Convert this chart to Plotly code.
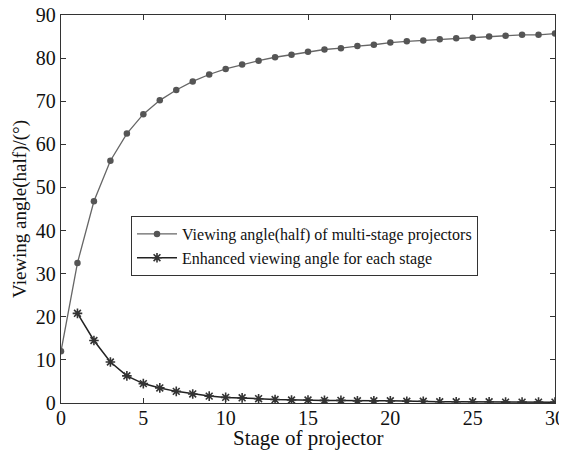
import plotly.graph_objects as go

stages_total = list(range(0, 31))
viewing_angle_total = [12.0, 32.5, 46.8, 56.2, 62.5, 67.0, 70.2, 72.6, 74.6, 76.2,
                       77.5, 78.5, 79.4, 80.2, 80.8, 81.5, 82.0, 82.3, 82.8, 83.1,
                       83.6, 83.9, 84.1, 84.4, 84.6, 84.7, 85.0, 85.2, 85.4, 85.4, 85.7]

stages_enh = list(range(1, 31))
enhanced_angle = [20.8, 14.5, 9.5, 6.3, 4.5, 3.5, 2.7, 2.1, 1.6, 1.3,
                  1.2, 1.0, 0.8, 0.7, 0.7, 0.6, 0.6, 0.5, 0.5, 0.5,
                  0.4, 0.4, 0.3, 0.3, 0.3, 0.3, 0.2, 0.2, 0.2, 0.2]

font_family = "Times New Roman, Liberation Serif, serif"

fig = go.Figure()
fig.add_trace(go.Scatter(
    x=stages_total, y=viewing_angle_total, mode="lines+markers",
    name="Viewing angle(half) of multi-stage projectors",
    line=dict(color="#666666", width=1.3),
    marker=dict(symbol="circle", size=6.5, color="#555555"),
))
fig.add_trace(go.Scatter(
    x=stages_enh, y=enhanced_angle, mode="lines+markers",
    name="Enhanced viewing angle for each stage",
    line=dict(color="#222222", width=1.5),
    marker=dict(symbol="asterisk-open", size=8, color="#333333",
                line=dict(color="#333333", width=1.6)),
))

axis_common = dict(
    showgrid=False, zeroline=False, showline=True, linecolor="#333333",
    linewidth=1.3, mirror="ticks", ticks="inside", ticklen=5,
    tickcolor="#333333", tickwidth=1, automargin=False,
    ticklabeloverflow="allow",
    tickfont=dict(family=font_family, size=20, color="#111111"),
)

fig.update_layout(
    width=559, height=446,
    margin=dict(l=53, r=12, t=7, b=51),
    paper_bgcolor="white", plot_bgcolor="white",
    showlegend=True,
    font=dict(family=font_family),
    legend=dict(x=0.1417, y=0.482, xanchor="left", yanchor="top",
                bgcolor="white", bordercolor="#333333", borderwidth=1,
                font=dict(family=font_family, size=16, color="#111111"),
                tracegroupgap=0, itemwidth=40),
    xaxis=dict(range=[0, 30], tickvals=[0, 5, 10, 15, 20, 25, 30],
               ticklabelstandoff=-3, **axis_common),
    yaxis=dict(range=[0, 90], tickvals=list(range(0, 91, 10)),
               title=dict(text="Viewing angle(half)/(°)", standoff=4,
                          font=dict(family=font_family, size=19, color="#111111")),
               **axis_common),
)

fig.add_annotation(
    text="Stage of projector", xref="paper", yref="paper", x=0.5, y=0,
    xanchor="center", yanchor="middle", yshift=-35, showarrow=False,
    font=dict(family=font_family, size=21, color="#111111"),
)

fig.write_html("out.html")
